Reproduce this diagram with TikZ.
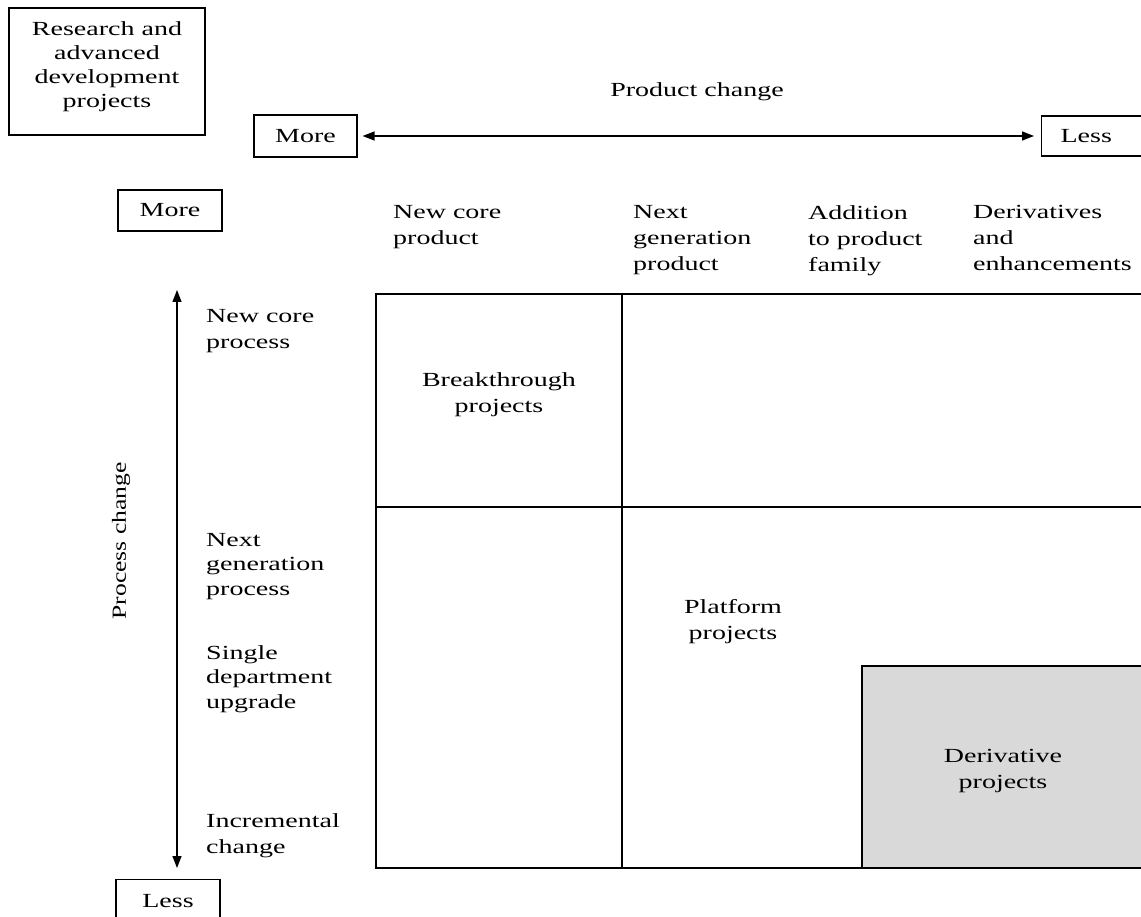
\documentclass[tikz,border=0pt]{standalone}
\usepackage{fontspec}
\setmainfont[FakeStretch=1.4]{Liberation Serif}
\newfontfamily\plainserif{Liberation Serif}
\usetikzlibrary{arrows.meta}
\definecolor{cellgrey}{HTML}{D9D9D9}
\begin{document}
\begin{tikzpicture}[x=1pt,y=-1pt,
  font=\fontsize{20}{26}\selectfont,
  box/.style={draw, line width=1.2pt, inner sep=0pt, align=center},
  lbl/.style={anchor=north west, inner sep=0pt, align=left},
  ctr/.style={inner sep=0pt, align=center},
  gridline/.style={line width=2pt},
  arrboth/.style={line width=1.4pt, {Triangle[length=12pt,width=9pt]}-{Triangle[length=12pt,width=9pt]}},
]
\clip (0,0) rectangle (1141,917);

% boxes
\node[box, minimum width=196pt, minimum height=127pt] (rad) at (107,71.5) {};
\node[ctr, font=\fontsize{20}{24}\selectfont] (radt) at (107,67)
  {Research and\\advanced\\development\\projects};
\node[box, minimum width=103pt, minimum height=42pt] (pmore) at (305.5,136) {More};
\node[box, anchor=west, minimum height=40pt, inner xsep=19pt, text width=90pt, align=left] (pless) at (1041,136) {Less};
\node[ctr] (pc) at (697,92) {Product change};
\draw[arrboth, shorten <=5pt, shorten >=7pt] (pmore) -- (pless);

\node[box, minimum width=104pt, minimum height=41pt] (vmore) at (170,210.5) {More};
\node[box, minimum width=104pt, minimum height=42pt, anchor=north] (vless) at (168,879) {Less};

\coordinate (ptop) at (177,290);
\coordinate (pbot) at (177,868);
\draw[arrboth] (ptop) -- (pbot);
\node[inner sep=0pt] (pcv) at (121,541) {\rotatebox{90}{\scalebox{1.28}[1]{\plainserif Process change}}};

% column headers
\node[lbl] (c1) at (393,205) {New core\\product};
\node[lbl] (c2) at (633,205) {Next\\generation\\product};
\node[lbl] (c3) at (808,205) {Addition\\to product\\family};
\node[lbl] (c4) at (973,205) {Derivatives\\and\\enhancements};

% row labels
\node[lbl] (r1) at (206,309) {New core\\process};
\node[lbl, font=\fontsize{20}{24.5}\selectfont] (r2) at (206,533) {Next\\generation\\process};
\node[lbl, font=\fontsize{20}{24.5}\selectfont] (r3) at (206,645) {Single\\department\\upgrade};
\node[lbl] (r4) at (206,813) {Incremental\\change};

% grid
\fill[cellgrey] (862,666) rectangle (1145,868);
\draw[line width=1.5pt] (862,868) -- (862,666) -- (1145,666);
\draw[gridline] (376,294) -- (1145,294);
\draw[gridline] (376,507) -- (1145,507);
\draw[gridline] (376,868) -- (1145,868);
\draw[line width=2.6pt] (376,293) -- (376,869);
\draw[line width=2.6pt] (622,293) -- (622,869);

% cell texts
\node[ctr] (bt) at (499,395) {Breakthrough\\projects};
\node[ctr] (pp) at (733,622) {Platform\\projects};
\node[ctr] (dp) at (1003,771) {Derivative\\projects};
\end{tikzpicture}
\end{document}
